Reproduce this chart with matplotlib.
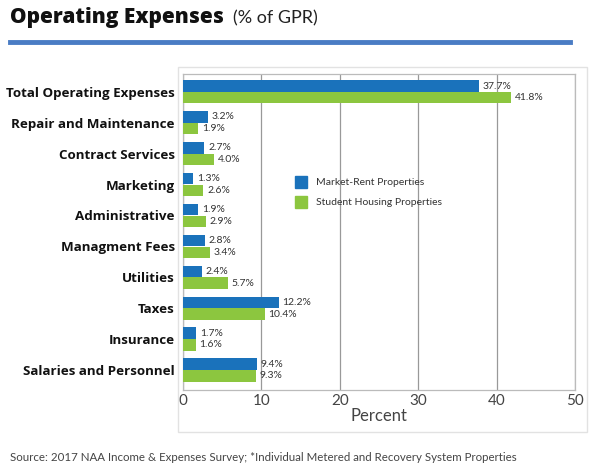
import numpy as np
import matplotlib.pyplot as plt
from matplotlib.patches import Rectangle
from matplotlib.lines import Line2D

categories = [
    "Total Operating Expenses",
    "Repair and Maintenance",
    "Contract Services",
    "Marketing",
    "Administrative",
    "Managment Fees",
    "Utilities",
    "Taxes",
    "Insurance",
    "Salaries and Personnel",
]
market_rent = [37.7, 3.2, 2.7, 1.3, 1.9, 2.8, 2.4, 12.2, 1.7, 9.4]
student_housing = [41.8, 1.9, 4.0, 2.6, 2.9, 3.4, 5.7, 10.4, 1.6, 9.3]
series_names = ["Market-Rent Properties", "Student Housing Properties"]
xticks = [0, 10, 20, 30, 40, 50]

blue = "#1a72bb"
green = "#8cc63f"
W, H = 600, 469

fig = plt.figure(figsize=(6, 4.69), dpi=100)

# outer light frame around chart
fig.patches.append(Rectangle((178 / W, 1 - 432 / H), (587 - 178) / W, (432 - 67) / H,
                             transform=fig.transFigure, fill=False,
                             edgecolor="#e2e2e2", linewidth=1.0))

ax = fig.add_axes([183 / W, 1 - 390 / H, (575 - 183) / W, (390 - 74) / H])

y = np.arange(len(categories))
h = 0.37
ax.barh(y - 0.19, market_rent, height=h, color=blue, zorder=3)
ax.barh(y + 0.19, student_housing, height=h, color=green, zorder=3)

for i in range(len(categories)):
    ax.text(market_rent[i] + 0.5, y[i] - 0.19, f"{market_rent[i]:.1f}%", va="center",
            ha="left", fontsize=7.5, color="#333333", family="Lato")
    ax.text(student_housing[i] + 0.5, y[i] + 0.19, f"{student_housing[i]:.1f}%", va="center",
            ha="left", fontsize=7.5, color="#333333", family="Lato")

ax.set_xlim(0, 50)
ax.set_ylim(9.65, -0.58)
ax.set_xticks(xticks)
ax.set_xticklabels([str(t) for t in xticks], fontsize=11, color="#444444", family="Lato")
ax.set_yticks(y)
ax.set_yticklabels(categories, fontsize=9.6, fontweight="bold", family="Open Sans", color="#111111")
ax.tick_params(axis="y", length=0, pad=6)
ax.tick_params(axis="x", length=0, pad=3)
ax.set_xlabel("Percent", fontsize=12, color="#444444", family="Lato", labelpad=0)
ax.grid(axis="x", color="#999999", linewidth=0.9, zorder=0)
for s in ax.spines.values():
    s.set_color("#bbbbbb")
    s.set_linewidth(0.9)

handles = [Line2D([], [], marker="s", linestyle="none", markersize=9, color=blue),
           Line2D([], [], marker="s", linestyle="none", markersize=9, color=green)]
leg = ax.legend(handles, series_names, loc="upper left", bbox_to_anchor=(0.265, 0.7),
                frameon=False, prop={"family": "Lato", "size": 7.5}, handlelength=1.0,
                labelspacing=1.0, handletextpad=0.9)
for t in leg.get_texts():
    t.set_color("#333333")

# title and rule
fig.text(10 / W, 1 - 18 / H, "Operating Expenses", fontsize=15, fontweight="heavy",
         family="Open Sans", va="center", ha="left", color="#111111")
fig.text(233 / W, 1 - 18 / H, "(% of GPR)", fontsize=13, family="Lato",
         va="center", ha="left", color="#222222")
fig.add_artist(Line2D([10 / W, 570 / W], [1 - 42 / H, 1 - 42 / H], color="#4a7cc4",
                      linewidth=3.5, transform=fig.transFigure))

fig.text(10 / W, 1 - 457 / H,
         "Source: 2017 NAA Income & Expenses Survey; *Individual Metered and Recovery System Properties",
         fontsize=8.3, family="Lato", color="#444444", va="center", ha="left")

fig.savefig("out.png", dpi=100)
